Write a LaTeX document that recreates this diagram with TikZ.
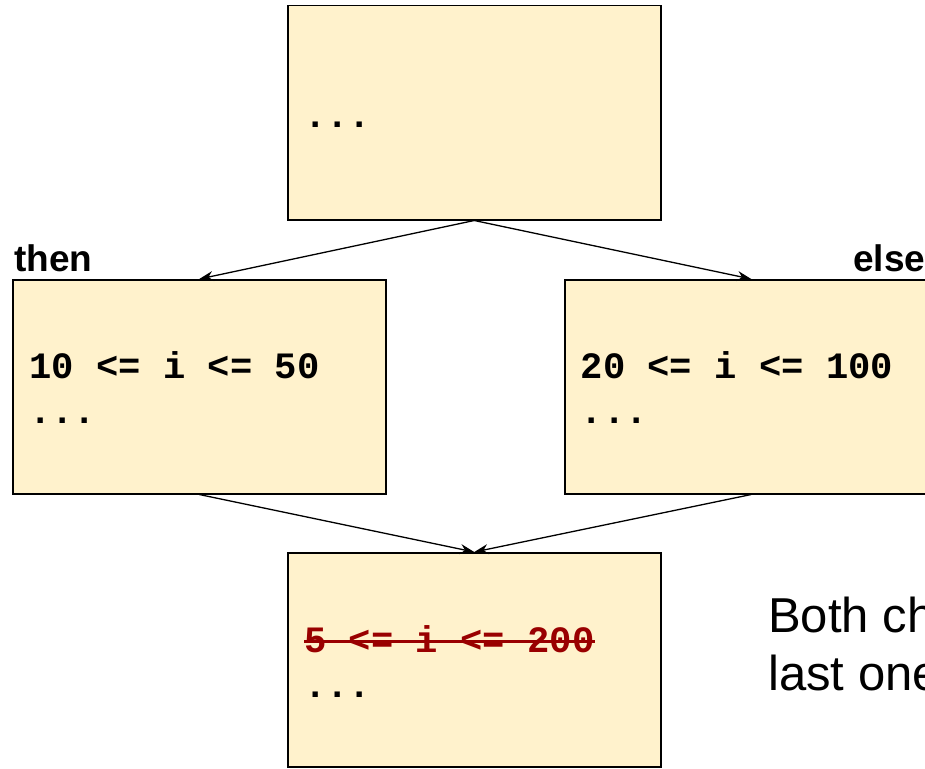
\documentclass[tikz,border=0pt]{standalone}
\usepackage{fontspec}
\setmainfont{Liberation Sans}
\newfontfamily\codefont{Liberation Mono}
\usetikzlibrary{arrows.meta}
\definecolor{boxfill}{HTML}{FFF2CC}
\definecolor{strikered}{HTML}{990000}
\tikzset{
  blockbox/.style={draw=black, line width=1.5pt, fill=boxfill, rectangle, anchor=north west, inner sep=0pt, minimum width=373pt},
  codetext/.style={anchor=base west, inner sep=0pt, font=\codefont\bfseries\fontsize{37.2}{44}\selectfont},
  labeltext/.style={anchor=base west, inner sep=0pt, font=\bfseries\fontsize{37}{42}\selectfont},
  notetext/.style={anchor=base west, inner sep=0pt, font=\fontsize{49}{58}\selectfont},
  flow/.style={line width=1.3pt, -{Stealth[length=14pt,width=10pt]}}
}
\begin{document}
\begin{tikzpicture}[x=1pt,y=-1pt]
\useasboundingbox (0,0) rectangle (925,768);
\clip (0,0) rectangle (925,768);
\fill[white] (0,0) rectangle (925,768);
% boxes
\node[blockbox, minimum height=214pt] (top) at (287,5) {};
\node[blockbox, minimum height=214pt] (left) at (12,279) {};
\node[blockbox, minimum height=214pt] (right) at (564,279) {};
\node[blockbox, minimum height=214pt] (bottom) at (287,552) {};
% connectors
\draw[flow] (top.south) -- (left.north);
\draw[flow] (top.south) -- (right.north);
\draw[flow] (left.south) -- (bottom.north);
\draw[flow] (right.south) -- (bottom.north);
% texts
\node[codetext] (topdots) at (304,127) {...};
\node[codetext] (leftcond) at (29,378) {10 <= i <= 50};
\node[codetext] (leftdots) at (29,423) {...};
\node[codetext] (rightcond) at (580.5,378) {20 <= i <= 100};
\node[codetext] (rightdots) at (580.5,423) {...};
\node[codetext, text=strikered] (botcond) at (304,652) {5 <= i <= 200};
\draw[strikered, line width=3pt] ([yshift=11pt]botcond.base west) -- ([yshift=11pt]botcond.base east);
\node[codetext] (botdots) at (304,697) {...};
\node[labeltext] (thenlab) at (14,271) {then};
\node[labeltext] (elselab) at (853,271) {else};
\node[notetext] (note1) at (768,632) {Both ch};
\node[notetext] (note2) at (768,690) {last one};
\end{tikzpicture}
\end{document}
